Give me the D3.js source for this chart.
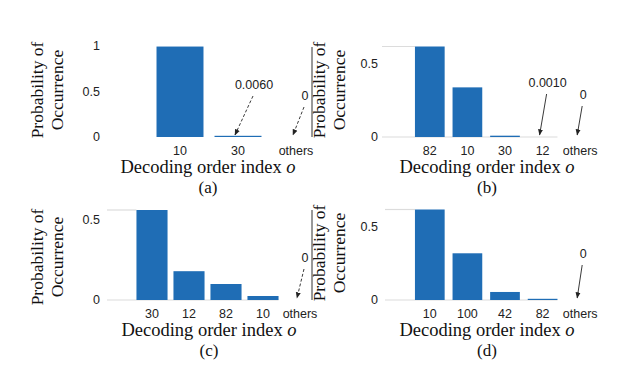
<!DOCTYPE html>
<html>
<head>
<meta charset="utf-8">
<script src="https://cdn.jsdelivr.net/npm/d3@7"></script>
<style>
  body { margin: 0; background: #fff; }
  svg { display: block; }
  .tick-lab { font-family: "Liberation Sans", Arial, sans-serif; font-size: 12.5px; fill: #222; }
  .serif { font-family: "Liberation Serif", "DejaVu Serif", serif; fill: #111; }
</style>
</head>
<body>
<svg id="chart"></svg>
<script>
var width = 640;
var height = 391;
var bar_colour = "#1f6db5";

// (a)
var cats_a = ["10", "30", "others"];
var vals_a = [0.994, 0.006, 0];
var notes_a = [{cat: "30", text: "0.0060"}, {cat: "others", text: "0"}];
// (b)
var cats_b = ["82", "10", "30", "12", "others"];
var vals_b = [0.62, 0.34, 0.009, 0.001, 0];
var notes_b = [{cat: "12", text: "0.0010"}, {cat: "others", text: "0"}];
// (c)
var cats_c = ["30", "12", "82", "10", "others"];
var vals_c = [0.5625, 0.18, 0.10, 0.025, 0];
var notes_c = [{cat: "others", text: "0"}];
// (d)
var cats_d = ["10", "100", "42", "82", "others"];
var vals_d = [0.62, 0.32, 0.055, 0.007, 0];
var notes_d = [{cat: "others", text: "0"}];

var ticks_a = [0, 0.5, 1];
var ticks_other = [0, 0.5];
var captions = ["(a)", "(b)", "(c)", "(d)"];

let svg = d3.select("#chart").attr("width", width).attr("height", height);

let defs = svg.append("defs");
defs.append("marker")
    .attr("id", "arrow")
    .attr("viewBox", "0 0 10 10")
    .attr("refX", 9).attr("refY", 5)
    .attr("markerWidth", 7).attr("markerHeight", 7)
    .attr("orient", "auto")
    .append("path")
    .attr("d", "M0,1 L10,5 L0,9 Z")
    .attr("fill", "#222");

// layout of the four panels (positions only)
var panels = [
    {cats: cats_a, vals: vals_a, notes: notes_a, ticks: ticks_a, ymax: 1,
     xr: [151, 325], pad: 0.19, y0: 137, y1: 46, tickx: 100, labx: 43, laby: 90,
     title_x: 208, row: 0, dashed: true, grid: false, grid_left: 0,
     note_dx: [15, 8], note_dy: [-46, -35]},
    {cats: cats_b, vals: vals_b, notes: notes_b, ticks: ticks_other, ymax: 0.62,
     xr: [411, 599], pad: 0.21, y0: 137, y1: 46.5, tickx: 378, labx: 325, laby: 90,
     title_x: 487, row: 0, dashed: false, grid: true, grid_left: 382,
     note_dx: [4, 2], note_dy: [-48, -36]},
    {cats: cats_c, vals: vals_c, notes: notes_c, ticks: ticks_other, ymax: 0.5625,
     xr: [133.5, 318.5], pad: 0.16, y0: 300, y1: 210, tickx: 100, labx: 43, laby: 257,
     title_x: 209, row: 1, dashed: true, grid: true, grid_left: 107,
     note_dx: [4], note_dy: [-36]},
    {cats: cats_d, vals: vals_d, notes: notes_d, ticks: ticks_other, ymax: 0.62,
     xr: [411, 599], pad: 0.21, y0: 300, y1: 209.5, tickx: 378, labx: 325, laby: 253,
     title_x: 487, row: 1, dashed: false, grid: true, grid_left: 385,
     note_dx: [2], note_dy: [-40]}
];

panels.forEach(function(p, pi){
    let g = svg.append("g");
    let x = d3.scaleBand().domain(p.cats).range(p.xr)
        .paddingInner(p.pad).paddingOuter(p.pad / 2);
    let y = d3.scaleLinear().domain([0, p.ymax]).range([p.y0, p.y1]);

    if(p.grid){
        g.append("line")
            .attr("x1", p.grid_left).attr("x2", x(p.cats[p.cats.length - 2]) + x.bandwidth())
            .attr("y1", y(0)).attr("y2", y(0))
            .attr("stroke", "#dcdcdc").attr("stroke-width", 1.2);
        g.append("line")
            .attr("x1", p.grid_left).attr("x2", x(p.cats[0]))
            .attr("y1", y(p.ymax)).attr("y2", y(p.ymax))
            .attr("stroke", "#dcdcdc").attr("stroke-width", 1.2);
    }

    // values under 0.005 are too small to show, as in the original
    g.selectAll(".bar")
        .data(p.cats.map((c, i) => ({cat: c, v: p.vals[i]})))
        .join("rect")
        .attr("class", "bar")
        .attr("x", d => x(d.cat))
        .attr("width", x.bandwidth())
        .attr("y", d => Math.min(y(d.v), y(0) - 1.2))
        .attr("height", d => d.v >= 0.005 ? Math.max(y(0) - y(d.v), 1.2) : 0)
        .attr("fill", bar_colour);

    // y ticks
    g.selectAll(".ytick")
        .data(p.ticks)
        .join("text")
        .attr("class", "tick-lab")
        .attr("x", p.tickx)
        .attr("y", d => y(d) + 4)
        .attr("text-anchor", "end")
        .text(d => d3.format("~g")(d));

    // x ticks
    let base_y = p.row == 0 ? 155 : 318;
    g.selectAll(".xtick")
        .data(p.cats)
        .join("text")
        .attr("class", "tick-lab")
        .attr("x", d => x(d) + x.bandwidth() / 2)
        .attr("y", base_y)
        .attr("text-anchor", "middle")
        .text(d => d);

    // y label
    let lab = g.append("text")
        .attr("class", "serif")
        .attr("transform", "translate(" + p.labx + "," + p.laby + ") rotate(-90)")
        .attr("text-anchor", "middle")
        .style("font-size", "17.5px");
    lab.append("tspan").attr("x", 0).attr("dy", 0).text("Probability of");
    lab.append("tspan").attr("x", 0).attr("dy", 20).text("Occurrence");

    // x title + caption
    let title = g.append("text")
        .attr("class", "serif")
        .attr("x", p.title_x)
        .attr("y", base_y + 18)
        .attr("text-anchor", "middle")
        .style("font-size", "18.5px");
    title.append("tspan").text("Decoding order index ");
    title.append("tspan").style("font-style", "italic").text("o");

    g.append("text")
        .attr("class", "serif")
        .attr("x", p.title_x)
        .attr("y", base_y + 38)
        .attr("text-anchor", "middle")
        .style("font-size", "17px")
        .text(captions[pi]);

    // annotations
    p.notes.forEach(function(n, ni){
        let tx = x(n.cat) + x.bandwidth() / 2 - 3;
        let ty = y(0) - 2;
        let lx = tx + p.note_dx[ni];
        let ly = ty + p.note_dy[ni];
        g.append("text")
            .attr("class", "tick-lab")
            .attr("x", lx + 4)
            .attr("y", ly)
            .attr("text-anchor", "middle")
            .text(n.text);
        g.append("line")
            .attr("x1", lx + 3).attr("y1", ly + 7)
            .attr("x2", tx).attr("y2", ty)
            .attr("stroke", "#222")
            .attr("stroke-width", 0.9)
            .attr("stroke-dasharray", p.dashed ? "3,2" : null)
            .attr("marker-end", "url(#arrow)");
    });
});

// right frame lines of the left panels
[[47, 137], [210, 300]].forEach(function(r){
    svg.append("line")
        .attr("x1", 312).attr("x2", 312)
        .attr("y1", r[0]).attr("y2", r[1])
        .attr("stroke", "#333").attr("stroke-width", 1);
});
</script>
</body>
</html>
